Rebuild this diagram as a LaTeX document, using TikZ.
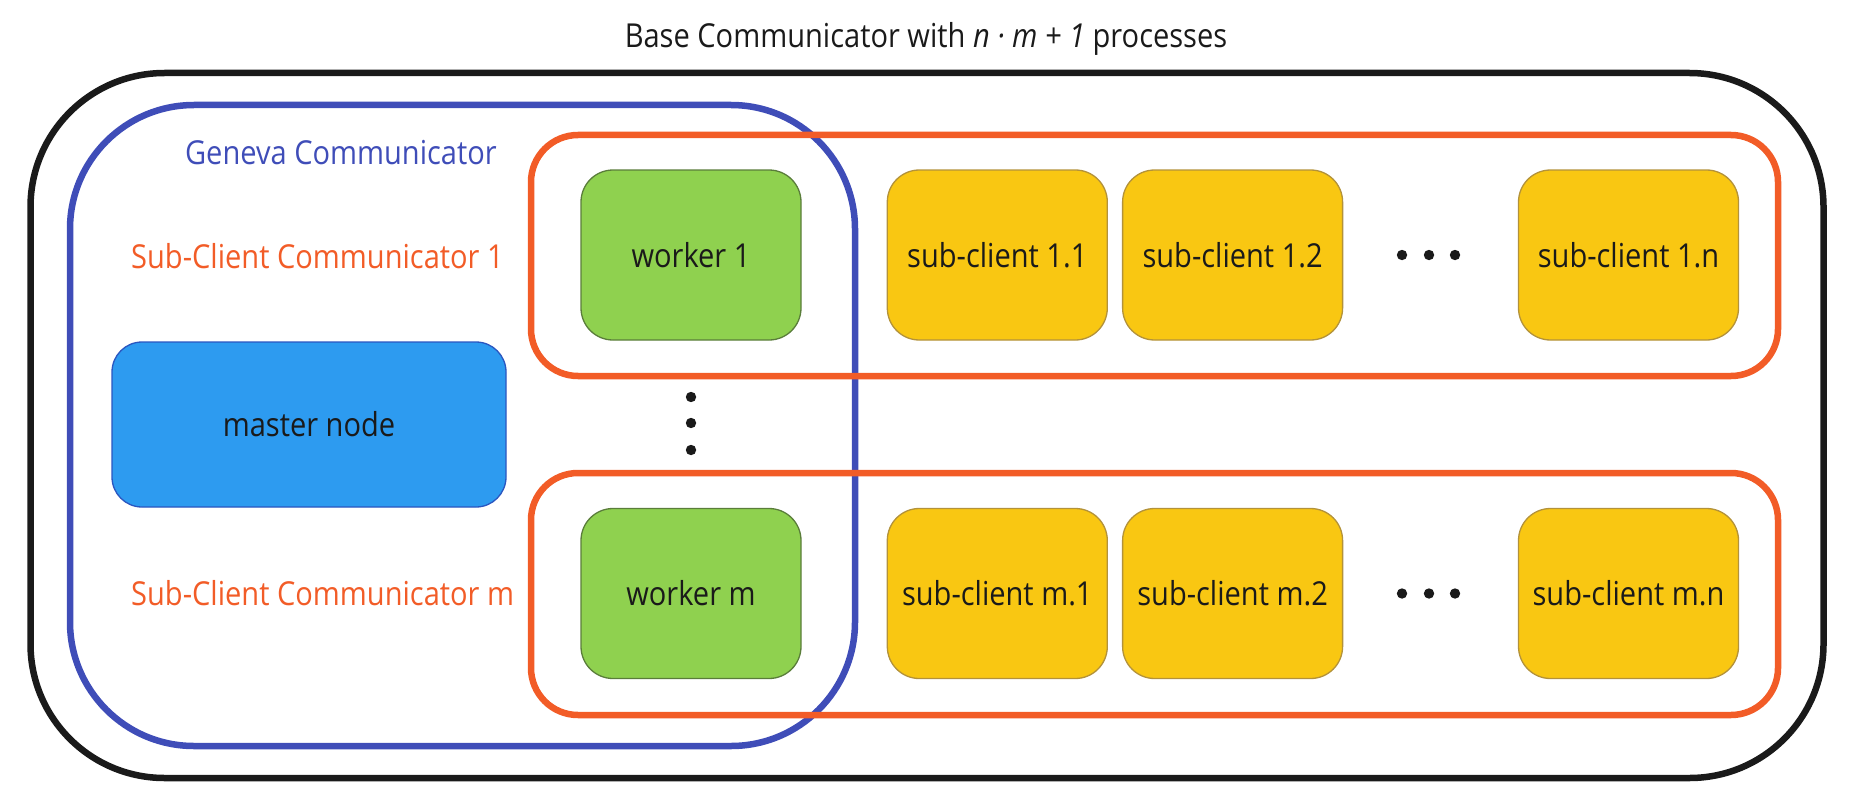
\documentclass[tikz,border=0pt]{standalone}
\usepackage{fontspec}
\setmainfont{Open Sans}[FakeStretch=0.88]
\usetikzlibrary{positioning}

\definecolor{inkblack}{HTML}{1A1A1A}
\definecolor{genevablue}{HTML}{3F4DB8}
\definecolor{subclientorange}{HTML}{F25C27}
\definecolor{masterblue}{HTML}{2D9BF0}
\definecolor{masteredge}{HTML}{2A56C0}
\definecolor{workergreen}{HTML}{8FD14F}
\definecolor{workeredge}{HTML}{5A7D3A}
\definecolor{clientyellow}{HTML}{F9C712}
\definecolor{clientedge}{HTML}{B3923A}

\begin{document}
\begin{tikzpicture}[x=1pt,y=-1pt,font=\fontsize{33}{38}\selectfont,
 proc/.style={draw,line width=1.3pt,rounded corners=32pt,minimum width=220pt,minimum height=170pt,text=inkblack,inner sep=0pt},
 master/.style={proc,fill=masterblue,draw=masteredge,rounded corners=30pt,minimum width=394pt,minimum height=165pt},
 worker/.style={proc,fill=workergreen,draw=workeredge},
 subclient/.style={proc,fill=clientyellow,draw=clientedge},
 comm/.style={draw,line width=6.5pt,inner sep=0pt},
 label/.style={inner sep=0pt,anchor=west}]
\useasboundingbox (0,0) rectangle (1855,797);
% communicators
\node[comm,draw=inkblack,rounded corners=134pt,minimum width=1793pt,minimum height=705pt] (base) at (927,425.5) {};
\node[comm,draw=genevablue,rounded corners=124pt,minimum width=785pt,minimum height=641pt] (geneva) at (462.5,425.5) {};
\node[comm,draw=subclientorange,rounded corners=47pt,minimum width=1247pt,minimum height=241pt] (subcomm1) at (1154.5,255.5) {};
\node[comm,draw=subclientorange,rounded corners=47pt,minimum width=1247pt,minimum height=242pt] (subcommm) at (1154.5,594) {};
\node[inkblack] (title) at (926,39) {Base Communicator with \textit{n · m + 1} processes};
\node[label,genevablue,anchor=east] (genevalabel) at (497,153) {Geneva Communicator};
\node[label,subclientorange] (sublabel1) at (131,256) {Sub-Client Communicator 1};
\node[label,subclientorange] (sublabelm) at (131,593) {Sub-Client Communicator m};
% processes
\node[master] (masternode) at (309,424.5) {master node};
\node[worker] (worker1) at (691,255) {worker 1};
\node[worker] (workerm) at (691,593.5) {worker m};
\node[subclient,right=85pt of worker1] (sc11) {sub-client 1.1};
\node[subclient,right=14pt of sc11] (sc12) {sub-client 1.2};
\node[subclient] (sc1n) at (1628.5,255) {sub-client 1.n};
\node[subclient,right=85pt of workerm] (scm1) {sub-client m.1};
\node[subclient,right=14pt of scm1] (scm2) {sub-client m.2};
\node[subclient] (scmn) at (1628.5,593.5) {sub-client m.n};
% dots
\foreach \y in {255,593.5}
  \foreach \x in {1402,1429,1455}
    \fill[inkblack] (\x,\y) circle (5.2pt);
\foreach \y in {397,423,450}
  \fill[inkblack] (691,\y) circle (5.2pt);
\end{tikzpicture}
\end{document}
